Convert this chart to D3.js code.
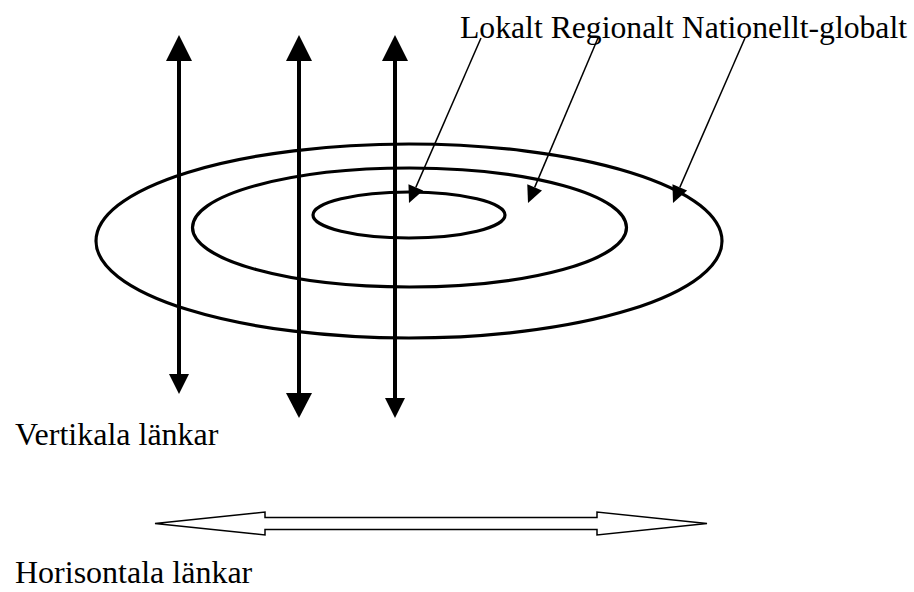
<!DOCTYPE html>
<html>
<head>
<meta charset="utf-8">
<script src="https://cdn.jsdelivr.net/npm/d3@7"></script>
<style>
  html, body { margin: 0; padding: 0; background: #fff; }
  svg { display: block; }
  text { font-family: "Liberation Serif", "Times New Roman", serif; fill: #000; }
</style>
</head>
<body>
<svg id="chart" width="914" height="592"></svg>
<script>
// Levels (rings) of the diagram
const levels = ["Lokalt", "Regionalt", "Nationellt-globalt"];
const levelTitle = "Lokalt Regionalt Nationellt-globalt";
const verticalLabel = "Vertikala länkar";
const horizontalLabel = "Horisontala länkar";
const verticalLinks = ["v1", "v2", "v3"];

const svg = d3.select("#chart");

// Layout
const ringGeom = [
  { cx: 409, cy: 215, rx: 96, ry: 23 },
  { cx: 409.5, cy: 227.5, rx: 217, ry: 59.5 },
  { cx: 409, cy: 241, rx: 313, ry: 97 }
];
const vArrows = [
  { x: 179, top: 35, headTop: 26, headTopW: 26, bottom: 394, headBot: 20, headBotW: 20 },
  { x: 299, top: 35, headTop: 26, headTopW: 26, bottom: 418, headBot: 25, headBotW: 26 },
  { x: 395, top: 35, headTop: 26, headTopW: 26, bottom: 418, headBot: 20, headBotW: 20 }
];
const pointers = [
  { x1: 481, y1: 38, x2: 409, y2: 203 },
  { x1: 598, y1: 38, x2: 528, y2: 203 },
  { x1: 745, y1: 38, x2: 673, y2: 203 }
];

// Ellipses
svg.append("g").selectAll("ellipse")
  .data(levels)
  .join("ellipse")
  .attr("cx", (d, i) => ringGeom[i].cx)
  .attr("cy", (d, i) => ringGeom[i].cy)
  .attr("rx", (d, i) => ringGeom[i].rx)
  .attr("ry", (d, i) => ringGeom[i].ry)
  .attr("fill", "none")
  .attr("stroke", "#000")
  .attr("stroke-width", 3.2);

// Vertical double arrows
const vg = svg.append("g");
verticalLinks.forEach((d, i) => {
  const a = vArrows[i];
  vg.append("line")
    .attr("x1", a.x).attr("x2", a.x)
    .attr("y1", a.top + a.headTop - 2).attr("y2", a.bottom - a.headBot + 2)
    .attr("stroke", "#000").attr("stroke-width", 4);
  vg.append("path")
    .attr("d", d3.line()([[a.x, a.top], [a.x - a.headTopW / 2, a.top + a.headTop], [a.x + a.headTopW / 2, a.top + a.headTop]]) + "Z")
    .attr("fill", "#000");
  vg.append("path")
    .attr("d", d3.line()([[a.x, a.bottom], [a.x - a.headBotW / 2, a.bottom - a.headBot], [a.x + a.headBotW / 2, a.bottom - a.headBot]]) + "Z")
    .attr("fill", "#000");
});

// Pointer arrows from the labels to the rings
const pg = svg.append("g");
levels.forEach((d, i) => {
  const p = pointers[i];
  const ang = Math.atan2(p.y2 - p.y1, p.x2 - p.x1);
  const L = 17, W = 8;
  const bx = p.x2 - L * Math.cos(ang), by = p.y2 - L * Math.sin(ang);
  const nx = -Math.sin(ang), ny = Math.cos(ang);
  pg.append("line")
    .attr("x1", p.x1).attr("y1", p.y1).attr("x2", bx).attr("y2", by)
    .attr("stroke", "#000").attr("stroke-width", 1.5);
  pg.append("path")
    .attr("d", d3.line()([[p.x2, p.y2], [bx + nx * W, by + ny * W], [bx - nx * W, by - ny * W]]) + "Z")
    .attr("fill", "#000");
});

// Horizontal hollow double arrow
const h = { x1: 155, x2: 707, y: 523.5, headL: 110, headH: 11.5, shaftH: 6 };
const hp = [
  [h.x1, h.y],
  [h.x1 + h.headL, h.y - h.headH],
  [h.x1 + h.headL, h.y - h.shaftH],
  [h.x2 - h.headL, h.y - h.shaftH],
  [h.x2 - h.headL, h.y - h.headH],
  [h.x2, h.y],
  [h.x2 - h.headL, h.y + h.headH],
  [h.x2 - h.headL, h.y + h.shaftH],
  [h.x1 + h.headL, h.y + h.shaftH],
  [h.x1 + h.headL, h.y + h.headH]
];
svg.append("path")
  .attr("d", d3.line()(hp) + "Z")
  .attr("fill", "#fff")
  .attr("stroke", "#000")
  .attr("stroke-width", 1.5)
  .attr("stroke-linejoin", "miter");

// Texts
svg.append("text").attr("x", 460).attr("y", 38).attr("font-size", 31.7).text(levelTitle);
svg.append("text").attr("x", 15).attr("y", 445).attr("font-size", 32).text(verticalLabel);
svg.append("text").attr("x", 15).attr("y", 583).attr("font-size", 32).text(horizontalLabel);
</script>
</body>
</html>
